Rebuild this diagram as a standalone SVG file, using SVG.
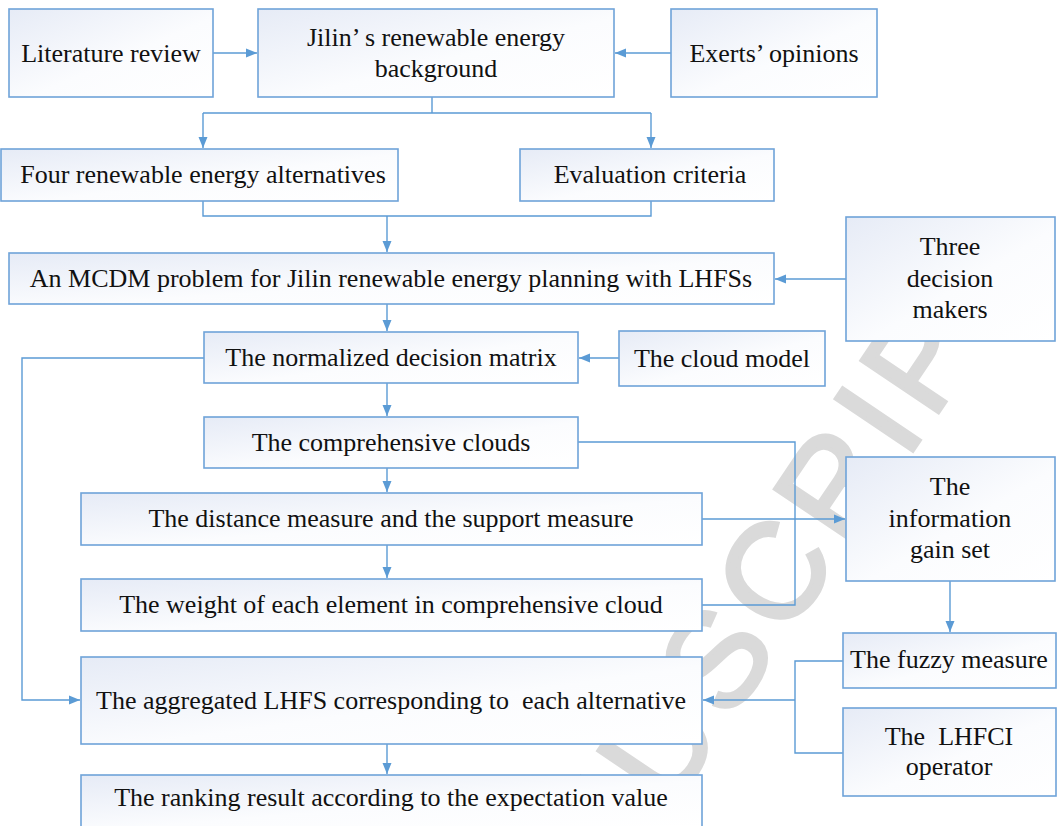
<svg xmlns="http://www.w3.org/2000/svg" width="1057" height="826" viewBox="0 0 1057 826">
<defs>
<linearGradient id="g" x1="0" y1="0" x2="1" y2="1">
<stop offset="0" stop-color="#e6ebf6"/>
<stop offset="0.55" stop-color="#fbfcfe"/>
<stop offset="1" stop-color="#ffffff"/>
</linearGradient>
<marker id="ah" markerUnits="userSpaceOnUse" markerWidth="12" markerHeight="10" refX="11" refY="5" orient="auto">
<path d="M0,0.5 L11,5 L0,9.5 Z" fill="#5b9bd5"/>
</marker>
</defs>
<style>
.b{fill:url(#g);stroke:#6fa3d9;stroke-width:1.6}
.t{font-size:26px;fill:#111;text-anchor:middle}
.c{fill:none;stroke:#5b9bd5;stroke-width:1.4}
.a{marker-end:url(#ah)}
.wm{font-size:135px;fill:#dadada;stroke:#dadada;stroke-width:4;letter-spacing:10px}
</style>
<rect width="1057" height="826" fill="#ffffff"/>
<text class="wm" font-family="'Liberation Sans', Arial, 'DejaVu Sans', sans-serif" text-anchor="end" transform="translate(1040,262) rotate(-56)">ACCEPTED MANUSCRIPT</text>

<g id="connectors">
<path class="c a" d="M213,53 H257"/>
<path class="c a" d="M671,53 H615"/>
<path class="c" d="M432,97 V113 M203,113 H651"/>
<path class="c a" d="M203,113 V148"/>
<path class="c a" d="M651,113 V148"/>
<path class="c" d="M203,201 V216 H651 V201"/>
<path class="c a" d="M387,216 V252"/>
<path class="c a" d="M846,279 H775"/>
<path class="c a" d="M387,304 V331"/>
<path class="c a" d="M619,358 H579"/>
<path class="c a" d="M204,358 H22 V700 H80"/>
<path class="c a" d="M387,383 V416"/>
<path class="c a" d="M387,468 V492"/>
<path class="c a" d="M387,545 V578"/>
<path class="c" d="M578,442 H795 V605 H702"/>
<path class="c a" d="M702,519 H845"/>
<path class="c a" d="M950,581 V632"/>
<path class="c" d="M843,661 H795 V753 H843"/>
<path class="c a" d="M795,700 H703"/>
<path class="c a" d="M387,744 V774"/>
</g>

<g id="nodes" font-family="'Liberation Serif', 'Times New Roman', Times, 'DejaVu Serif', serif">
<g id="n-literature"><rect class="b" x="9" y="9" width="204" height="88"/><text class="t" x="111" y="62">Literature review</text></g>
<g id="n-jilin"><rect class="b" x="258" y="9" width="356" height="88"/><text class="t" x="436" y="46">Jilin’ s renewable energy</text><text class="t" x="436" y="77">background</text></g>
<g id="n-experts"><rect class="b" x="671" y="9" width="206" height="88"/><text class="t" x="774" y="62">Exerts’ opinions</text></g>
<g id="n-alternatives"><rect class="b" x="1" y="149" width="397" height="52"/><text class="t" x="203" y="183">Four renewable energy alternatives</text></g>
<g id="n-criteria"><rect class="b" x="520" y="149" width="254" height="52"/><text class="t" x="650" y="183">Evaluation criteria</text></g>
<g id="n-mcdm"><rect class="b" x="9" y="253" width="765" height="51"/><text class="t" x="391" y="287">An MCDM problem for Jilin renewable energy planning with LHFSs</text></g>
<g id="n-dm"><rect class="b" x="846" y="217" width="209" height="124"/><text class="t" x="950" y="255">Three</text><text class="t" x="950" y="287">decision</text><text class="t" x="950" y="318">makers</text></g>
<g id="n-normalized"><rect class="b" x="204" y="332" width="374" height="51"/><text class="t" x="391" y="366">The normalized decision matrix</text></g>
<g id="n-cloudmodel"><rect class="b" x="619" y="331" width="206" height="55"/><text class="t" x="722" y="367">The cloud model</text></g>
<g id="n-comprehensive"><rect class="b" x="204" y="417" width="374" height="51"/><text class="t" x="391" y="451">The comprehensive clouds</text></g>
<g id="n-infogain"><rect class="b" x="846" y="457" width="209" height="124"/><text class="t" x="950" y="495">The</text><text class="t" x="950" y="527">information</text><text class="t" x="950" y="558">gain set</text></g>
<g id="n-distance"><rect class="b" x="81" y="493" width="621" height="52"/><text class="t" x="391" y="527">The distance measure and the support measure</text></g>
<g id="n-weight"><rect class="b" x="81" y="579" width="621" height="52"/><text class="t" x="391" y="613">The weight of each element in comprehensive cloud</text></g>
<g id="n-fuzzy"><rect class="b" x="843" y="633" width="213" height="55"/><text class="t" x="949" y="668">The fuzzy measure</text></g>
<g id="n-aggregated"><rect class="b" x="81" y="657" width="621" height="87"/><text class="t" x="391" y="709" xml:space="preserve">The aggregated LHFS corresponding to  each alternative</text></g>
<g id="n-lhfci"><rect class="b" x="843" y="708" width="213" height="88"/><text class="t" x="949" y="745" xml:space="preserve">The  LHFCI</text><text class="t" x="949" y="775">operator</text></g>
<g id="n-ranking"><rect class="b" x="81" y="775" width="621" height="52"/><text class="t" x="391" y="806">The ranking result according to the expectation value</text></g>
</g>
</svg>
